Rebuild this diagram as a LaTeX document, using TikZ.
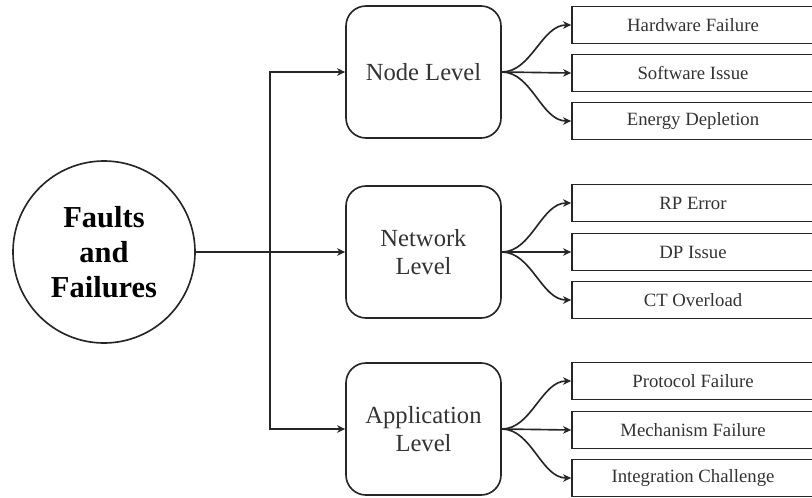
\documentclass[tikz,border=0pt]{standalone}
\usepackage{fontspec}
\setmainfont{Liberation Serif}
\usetikzlibrary{arrows.meta}

\begin{document}
\begin{tikzpicture}[x=0.03cm, y=-0.03cm, line width=1.4pt, draw=black!85,
    >={Stealth[length=7pt, width=6.5pt]},
    faultcircle/.style={draw, circle, minimum size=5.46cm, align=center,
        font=\fontsize{26}{30}\selectfont\bfseries},
    levelbox/.style={draw, rounded corners=0.6cm, minimum width=4.65cm,
        minimum height=3.96cm, align=center, text=black!80,
        font=\fontsize{21}{24}\selectfont},
    leafbox/.style={draw, minimum width=7.26cm, minimum height=1.11cm,
        text=black!80, font=\fontsize{16}{19}\selectfont},
    branch/.style={->, out=0, in=180, looseness=0.9}]
    \useasboundingbox (0,0) rectangle (812,497);

    % Positions
    \def\xlvl{423.5}
    \def\xleaf{693}

    % Root
    \node[faultcircle] (faults) at (104,252) {Faults\\and\\Failures};

    % Levels
    \node[levelbox] (nodelvl) at (\xlvl,72) {Node Level};
    \node[levelbox] (netlvl) at (\xlvl,252) {Network\\Level};
    \node[levelbox] (applvl) at (\xlvl,429) {Application\\Level};

    % Leaves of node level
    \node[leafbox] (hw) at (\xleaf,25) {Hardware Failure};
    \node[leafbox] (sw) at (\xleaf,73) {Software Issue};
    \node[leafbox] (energy) at (\xleaf,121) {Energy Depletion};

    % Leaves of network level
    \node[leafbox] (rp) at (\xleaf,203) {RP Error};
    \node[leafbox] (dp) at (\xleaf,252) {DP Issue};
    \node[leafbox] (ct) at (\xleaf,300) {CT Overload};

    % Leaves of application level
    \node[leafbox] (protocol) at (\xleaf,381) {Protocol Failure};
    \node[leafbox] (mechanism) at (\xleaf,430) {Mechanism Failure};
    \node[leafbox] (integration) at (\xleaf,478) {Integration Challenge};

    % Trunk
    \coordinate (trunk) at (270,252);
    \draw (faults.east) -- (trunk);
    \draw[->] (trunk) |- (nodelvl.west);
    \draw[->] (trunk) -- (netlvl.west);
    \draw[->] (trunk) |- (applvl.west);

    % Branches
    \draw (nodelvl.east) edge[branch] (hw.west)
        edge[->] (sw.west) edge[branch] (energy.west);
    \draw (netlvl.east) edge[branch] (rp.west)
        edge[->] (dp.west) edge[branch] (ct.west);
    \draw (applvl.east) edge[branch] (protocol.west)
        edge[->] (mechanism.west) edge[branch] (integration.west);
\end{tikzpicture}
\end{document}
